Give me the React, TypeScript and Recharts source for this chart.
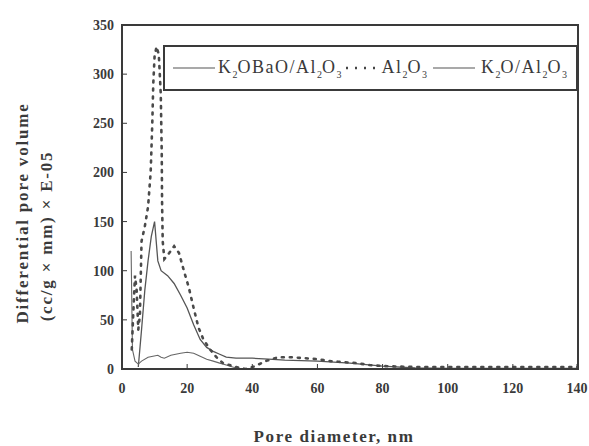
import { LineChart, Line, XAxis, YAxis, ReferenceArea, Legend } from 'recharts'

// pore diameter (nm) vs differential pore volume (cc/g x mm) x E-05
const k2oBaoX = [5, 6, 7, 8, 9, 10, 11, 12, 14, 16, 18, 20, 22, 24, 26, 28, 30, 32, 35, 40, 45, 50, 60, 70, 80, 90, 100, 120, 140]
const k2oBaoY = [2, 40, 80, 110, 135, 150, 110, 100, 95, 87, 75, 62, 45, 30, 22, 18, 15, 12, 11, 11, 10, 9, 8, 6, 3, 1, 0.5, 0.5, 0.5]

const al2o3X = [3, 3.5, 4, 4.5, 5, 5.5, 6, 7, 8, 8.8, 9.3, 9.6, 10, 10.6, 11.3, 11.9, 12.2, 12.3, 12.5, 13, 14.5, 16, 17.5, 19, 20.5, 22, 23.5, 25, 27, 29, 31, 35, 38, 41, 44, 48, 52, 56, 60, 64, 68, 72, 76, 80, 90, 100, 120, 140]
const al2o3Y = [20, 60, 95, 80, 40, 55, 130, 145, 165, 200, 250, 290, 318, 328, 320, 280, 220, 170, 130, 112, 118, 125, 118, 100, 83, 62, 42, 30, 20, 12, 6, 2, 0, 3, 8, 12, 12, 11, 10, 8, 7, 6, 4, 3, 2, 2, 2, 2]

const k2oX = [2.8, 3.2, 4, 5, 6, 8, 9.5, 11, 12, 13, 15, 18, 20, 22, 24, 26, 28, 30, 32, 34, 36, 40, 60, 100, 140]
const k2oY = [120, 20, 8, 5, 8, 12, 13, 14, 12, 11, 14, 16, 17, 16, 13, 10, 8, 6, 4, 2, 0.5, 0.5, 0.5, 0.5, 0.5]

const xTicks = [0, 20, 40, 60, 80, 100, 120, 140]
const yTicks = [0, 50, 100, 150, 200, 250, 300, 350]

const toPoints = (xs: number[], ys: number[]) => xs.map((x, i) => ({ x, y: ys[i] }))

const k2oBao = toPoints(k2oBaoX, k2oBaoY)
const al2o3 = toPoints(al2o3X, al2o3Y)
const k2o = toPoints(k2oX, k2oY)

const FONT = '"Liberation Serif", "DejaVu Serif", serif'
const INK = '#3a3a3a'

// tick label plus a short inward tick mark
function YTick(props: any) {
  const { x, y, payload } = props
  return (
    <g>
      <line x1={x + 8} y1={y} x2={x + 13} y2={y} stroke={INK} />
      <text x={x} y={y} dy={5} textAnchor="end" fontFamily={FONT} fontSize={14} fontWeight="bold" fill={INK}>
        {payload.value}
      </text>
    </g>
  )
}

function XTick(props: any) {
  const { x, y, payload } = props
  return (
    <g>
      <line x1={x} y1={y - 14} x2={x} y2={y - 19} stroke={INK} />
      <text x={x} y={y} dy={10} textAnchor="middle" fontFamily={FONT} fontSize={14} fontWeight="bold" fill={INK}>
        {payload.value}
      </text>
    </g>
  )
}

function LegendBox() {
  const sub = { fontSize: 10, verticalAlign: 'sub' as const, letterSpacing: 0 }
  return (
    <div
      style={{
        border: `2px solid ${INK}`,
        background: '#fff',
        height: 46,
        boxSizing: 'border-box',
        display: 'flex',
        alignItems: 'center',
        fontFamily: FONT,
        fontSize: 18,
        letterSpacing: 1.5,
        color: INK,
        paddingLeft: 8,
        whiteSpace: 'nowrap',
      }}
    >
      <svg width={42} height={6} style={{ flexShrink: 0 }}><line x1={0} y1={3} x2={42} y2={3} stroke="#555" strokeWidth={1.2} /></svg>
      <span style={{ marginLeft: 3 }}>K<span style={sub}>2</span>OBaO/Al<span style={sub}>2</span>O<span style={sub}>3</span></span>
      <svg width={34} height={6} style={{ flexShrink: 0 }}><line x1={4} y1={3} x2={34} y2={3} stroke="#444" strokeWidth={2.5} strokeDasharray="2 7" /></svg>
      <span style={{ marginLeft: 6 }}>Al<span style={sub}>2</span>O<span style={sub}>3</span></span>
      <svg width={48} height={6} style={{ marginLeft: 6, flexShrink: 0 }}><line x1={0} y1={3} x2={42} y2={3} stroke="#555" strokeWidth={1.2} /></svg>
      <span>K<span style={sub}>2</span>O/Al<span style={sub}>2</span>O<span style={sub}>3</span></span>
    </div>
  )
}

export default function App() {
  return (
    <div style={{ position: 'absolute', left: 0, top: 0, background: '#fff' }}>
      <LineChart width={589} height={446} margin={{ top: 25, right: 11, bottom: 47, left: 62 }}>
        <XAxis
          type="number"
          dataKey="x"
          domain={[0, 140]}
          ticks={xTicks}
          allowDataOverflow
          height={30}
          tickSize={6}
          tickMargin={8}
          tickLine={false}
          axisLine={{ stroke: INK, strokeWidth: 2 }}
          tick={<XTick />}
          label={{
            content: () => (
              <text x={334} y={442} textAnchor="middle" fontFamily={FONT} fontSize={17} letterSpacing={1.6} fontWeight="bold" fill={INK}>
                Pore diameter, nm
              </text>
            ),
          }}
        />
        <YAxis
          type="number"
          domain={[0, 350]}
          ticks={yTicks}
          allowDataOverflow
          width={60}
          tickSize={5}
          tickMargin={3}
          tickLine={false}
          axisLine={{ stroke: INK, strokeWidth: 2 }}
          tick={<YTick />}
          label={{
            content: () => (
              <g fontFamily={FONT} fontSize={17} fontWeight="bold" fill={INK} letterSpacing={1.8} textAnchor="middle">
                <text transform="rotate(-90, 28, 213)" x={28} y={213}>Differential pore volume</text>
                <text transform="rotate(-90, 52, 236)" x={52} y={236}>(cc/g × mm) × E-05</text>
              </g>
            ),
          }}
        />
        <ReferenceArea x1={0} x2={140} y1={0} y2={350} fill="none" stroke={INK} strokeWidth={2} ifOverflow="visible" />
        <Line data={k2oBao} dataKey="y" type="linear" stroke="#555" strokeWidth={1.3} dot={false} isAnimationActive={false} />
        <Line data={k2o} dataKey="y" type="linear" stroke="#666" strokeWidth={1.1} dot={false} isAnimationActive={false} />
        <Line data={al2o3} dataKey="y" type="linear" stroke="#4a4a4a" strokeWidth={2.6} strokeDasharray="2 6" strokeLinecap="round" dot={false} isAnimationActive={false} />
        <Legend
          layout="horizontal"
          verticalAlign="middle"
          align="center"
          content={() => <LegendBox />}
          wrapperStyle={{ top: 45, left: 163, width: 415, height: 46 }}
        />
      </LineChart>
    </div>
  )
}
